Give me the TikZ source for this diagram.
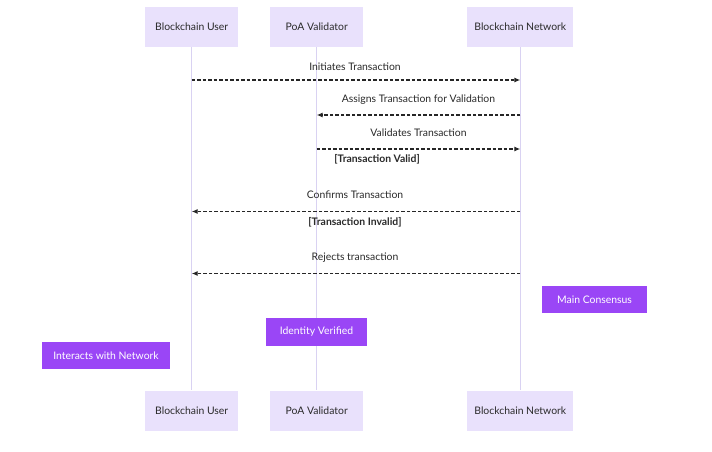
\documentclass[tikz,border=0pt]{standalone}
\usepackage{fontspec}
\setmainfont{Lato}
\usetikzlibrary{arrows.meta}
\definecolor{actorfill}{HTML}{E9E1FC}
\definecolor{notefill}{HTML}{9A46F6}
\definecolor{lifeline}{HTML}{D9D2F2}
\definecolor{txt}{HTML}{2A2A2A}
\begin{document}
\begin{tikzpicture}[x=1pt,y=-1pt,
  actor/.style={fill=actorfill, draw=none, minimum height=40pt, inner sep=0pt, text=txt, font=\fontsize{10.4}{12}\selectfont},
  note/.style={fill=notefill, draw=none, inner sep=0pt, text=white, font=\fontsize{10.4}{12}\selectfont},
  life/.style={draw=lifeline, line width=0.9pt},
  msg/.style={draw=black!85, line width=1.1pt, dash pattern=on 3.5pt off 2pt, -{Latex[length=6pt,width=5pt]}},
  lbl/.style={text=txt, font=\fontsize{10.4}{12}\selectfont, inner sep=0pt},
  blbl/.style={text=txt, font=\fontsize{10.4}{12}\selectfont\bfseries, inner sep=0pt}]
\useasboundingbox[fill=white] (0,0) rectangle (712,452);
% actors top
\node[actor, minimum width=93pt] (uT) at (191.7,27) {Blockchain User};
\node[actor, minimum width=93pt] (pT) at (316.7,27) {PoA Validator};
\node[actor, minimum width=106pt] (nT) at (520.3,27) {Blockchain Network};
% actors bottom
\node[actor, minimum width=93pt] (uB) at (191.7,410.5) {Blockchain User};
\node[actor, minimum width=93pt] (pB) at (316.7,410.5) {PoA Validator};
\node[actor, minimum width=106pt] (nB) at (520.3,410.5) {Blockchain Network};
% lifelines
\draw[life] (uT.south) -- (uB.north);
\draw[life] (pT.south) -- (pB.north);
\draw[life] (nT.south) -- (nB.north);
% notes
\node[note, minimum width=105pt, minimum height=27pt] (mc) at (594.5,299.5) {Main Consensus};
\node[note, minimum width=101pt, minimum height=28pt] (iv) at (316.5,332) {Identity Verified};
\node[note, minimum width=128pt, minimum height=27pt] (iw) at (106,355.5) {Interacts with Network};
% message endpoints
\coordinate (u80) at (uT.south |- 0,80);
\coordinate (n80) at (nT.south |- 0,80);
\coordinate (n115) at (nT.south |- 0,115);
\coordinate (p115) at (pT.south |- 0,115);
\coordinate (p149) at (pT.south |- 0,149);
\coordinate (n149) at (nT.south |- 0,149);
\coordinate (n211) at (nT.south |- 0,211.5);
\coordinate (u211) at (uT.south |- 0,211.5);
\coordinate (n273) at (nT.south |- 0,273.5);
\coordinate (u273) at (uT.south |- 0,273.5);
% messages
\draw[msg] (u80) -- (n80);
\draw[msg] (n115) -- (p115);
\draw[msg] (p149) -- (n149);
\draw[msg] (n211) -- (u211);
\draw[msg] (n273) -- (u273);
% labels
\node[lbl] (l1) at (355,67) {Initiates Transaction};
\node[lbl] (l2) at (418.5,99.5) {Assigns Transaction for Validation};
\node[lbl] (l3) at (418.5,133) {Validates Transaction};
\node[blbl] (l4) at (377,159.5) {[Transaction Valid]};
\node[lbl] (l5) at (355,195) {Confirms Transaction};
\node[blbl] (l6) at (355,222.5) {[Transaction Invalid]};
\node[lbl] (l7) at (355,257.5) {Rejects transaction};
\end{tikzpicture}
\end{document}
